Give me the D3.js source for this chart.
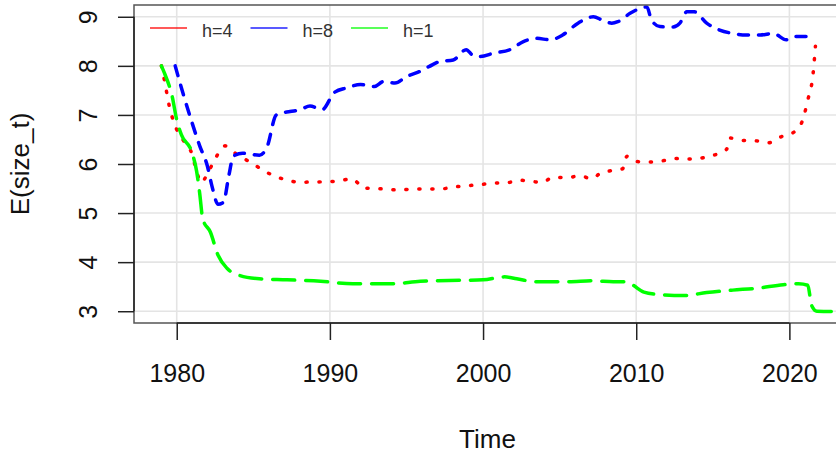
<!DOCTYPE html>
<html>
<head>
<meta charset="utf-8">
<script src="https://d3js.org/d3.v7.min.js"></script>
<style>
  body { margin: 0; background: #fff; }
  svg { display: block; font-family: "Liberation Sans", Arial, sans-serif; }
  .grid line { stroke: #e4e4e4; stroke-width: 1.6; }
  .axis text { font-size: 25px; fill: #111; }
  .axis line { stroke: #222; stroke-width: 1.5; }
  .legend text { font-size: 18px; fill: #333; }
</style>
</head>
<body>
<div id="vis"></div>
<script>
// series values (year, E(size_t))
const YEARS_H4 = [1979.0, 1979.2, 1979.5, 1980.0, 1980.5, 1981.0, 1981.3, 1981.6, 1982.0, 1982.5,
  1983.15, 1983.9, 1985.0, 1985.7, 1987.1, 1988.0, 1989.8, 1990.7, 1991.4, 1991.8, 1992.1,
  1993.0, 1994.6, 1995.4, 1997.2, 1998.05, 1999.8, 2000.7, 2001.6, 2002.3, 2003.3, 2003.8,
  2004.6, 2005.5, 2006.3, 2007.1, 2007.7, 2008.5, 2009.1, 2009.4, 2010.0, 2010.9, 2011.8,
  2012.6, 2013.5, 2014.4, 2015.25, 2015.9, 2016.1, 2017.0, 2017.9, 2018.6, 2019.5, 2020.25,
  2020.8, 2021.2, 2021.55, 2021.7];
const VALUES_H4 = [8.0, 7.7, 7.2, 6.7, 6.45, 6.2, 5.85, 5.62, 5.8, 6.1,
  6.37, 6.2, 6.0, 5.86, 5.68, 5.63, 5.64, 5.66, 5.70, 5.62, 5.51,
  5.50, 5.47, 5.49, 5.49, 5.53, 5.58, 5.61, 5.62, 5.67, 5.64, 5.62,
  5.73, 5.72, 5.76, 5.70, 5.82, 5.87, 5.90, 6.16, 6.05, 6.04, 6.07,
  6.11, 6.10, 6.13, 6.20, 6.30, 6.53, 6.48, 6.47, 6.43, 6.56, 6.64,
  6.84, 7.3, 7.85, 8.4];

const YEARS_H8 = [1979.9, 1980.4, 1981.0, 1981.5, 1982.0, 1982.3, 1982.7, 1983.05, 1983.4, 1983.7,
  1984.3, 1985.4, 1985.9, 1986.5, 1987.4, 1988.0, 1988.7, 1989.5, 1990.3, 1991.1, 1992.0,
  1992.9, 1993.5, 1994.25, 1995.0, 1995.9, 1996.5, 1997.2, 1998.05, 1998.9, 1999.4, 1999.8,
  2000.7, 2001.75, 2002.6, 2003.5, 2004.4, 2005.2, 2006.2, 2007.2, 2007.8, 2008.4, 2008.8,
  2009.6, 2010.25, 2010.7, 2011.0, 2011.55, 2012.4, 2012.85, 2013.3, 2013.8, 2014.6, 2015.45,
  2016.3, 2017.2, 2018.1, 2018.95, 2019.8, 2020.35, 2021.45];
const VALUES_H8 = [8.0, 7.45, 6.84, 6.37, 5.96, 5.55, 5.18, 5.22, 5.76, 6.16,
  6.22, 6.18, 6.35, 7.0, 7.07, 7.1, 7.18, 7.11, 7.46, 7.55, 7.62,
  7.58, 7.68, 7.65, 7.78, 7.89, 7.99, 8.09, 8.12, 8.33, 8.2, 8.19,
  8.26, 8.33, 8.49, 8.56, 8.53, 8.63, 8.87, 9.0, 8.93, 8.87, 8.9,
  9.07, 9.17, 9.2, 8.93, 8.8, 8.79, 8.87, 9.1, 9.1, 8.87, 8.73,
  8.66, 8.63, 8.63, 8.66, 8.53, 8.6, 8.6];

const YEARS_H1 = [1979.0, 1979.2, 1979.7, 1980.0, 1980.3, 1981.0, 1981.3, 1981.5, 1981.7, 1982.2,
  1982.7, 1983.3, 1984.1, 1985.4, 1987.2, 1989.4, 1991.5, 1993.0, 1994.1, 1995.9, 1998.5,
  2000.0, 2001.4, 2002.2, 2003.5, 2005.5, 2007.2, 2008.5, 2009.4, 2009.8, 2010.5, 2011.55,
  2013.1, 2014.6, 2016.3, 2017.9, 2019.6, 2020.6, 2021.2, 2021.45, 2021.8, 2023.5];
const VALUES_H1 = [8.0, 7.85, 7.38, 6.9, 6.6, 6.23, 5.85, 5.4, 4.88, 4.61,
  4.14, 3.87, 3.73, 3.66, 3.64, 3.61, 3.56, 3.56, 3.56, 3.61, 3.63,
  3.64, 3.70, 3.66, 3.60, 3.60, 3.62, 3.60, 3.60, 3.53, 3.39, 3.34,
  3.32, 3.38, 3.43, 3.47, 3.54, 3.56, 3.53, 3.12, 3.0, 2.99];

const X_TICKS = [1980, 1990, 2000, 2010, 2020];
const Y_TICKS = [3, 4, 5, 6, 7, 8, 9];
const LEGEND_LABELS = ["h=4", "h=8", "h=1"];
const COLORS = ["#ff0000", "#0000ff", "#00ff00"];

// frame
const FRAME_WIDTH = 836;
const FRAME_HEIGHT = 458;
const PLOT = {left: 134, right: 841, top: 5, bottom: 323};

const FRAME = d3.select("#vis")
                .append("svg")
                .attr("width", FRAME_WIDTH)
                .attr("height", FRAME_HEIGHT);

// scales (R style 4% padding around the data range)
const X_SCALE = d3.scaleLinear()
                  .domain([1977.21, 2023.37])
                  .range([PLOT.left, PLOT.right]);
const Y_SCALE = d3.scaleLinear()
                  .domain([2.76, 9.24])
                  .range([PLOT.bottom, PLOT.top]);

// grid
const GRID = FRAME.append("g").attr("class", "grid");
GRID.selectAll("vline")
    .data(X_TICKS)
    .enter().append("line")
    .attr("x1", d => X_SCALE(d)).attr("x2", d => X_SCALE(d))
    .attr("y1", PLOT.top).attr("y2", PLOT.bottom);
GRID.selectAll("hline")
    .data(Y_TICKS)
    .enter().append("line")
    .attr("x1", PLOT.left).attr("x2", PLOT.right)
    .attr("y1", d => Y_SCALE(d)).attr("y2", d => Y_SCALE(d));

// clip for the series
FRAME.append("clipPath").attr("id", "clip")
     .append("rect")
     .attr("x", PLOT.left).attr("y", PLOT.top)
     .attr("width", PLOT.right - PLOT.left)
     .attr("height", PLOT.bottom - PLOT.top);

const SERIES = [
  {years: YEARS_H4, values: VALUES_H4, color: COLORS[0], dash: "1.2,11.8"},
  {years: YEARS_H8, values: VALUES_H8, color: COLORS[1], dash: "10,10"},
  {years: YEARS_H1, values: VALUES_H1, color: COLORS[2], dash: "22,11"}
];

const LINE = d3.line()
               .x(d => X_SCALE(d[0]))
               .y(d => Y_SCALE(d[1]))
               .curve(d3.curveMonotoneX);

// draw the three series
FRAME.append("g")
     .attr("clip-path", "url(#clip)")
     .selectAll("path")
     .data(SERIES)
     .enter().append("path")
     .attr("d", s => LINE(s.years.map((y, i) => [y, s.values[i]])))
     .attr("fill", "none")
     .attr("stroke", s => s.color)
     .attr("stroke-width", 3.5)
     .attr("stroke-linecap", "round")
     .attr("stroke-linejoin", "round")
     .attr("stroke-dasharray", s => s.dash);

// box
FRAME.append("rect")
     .attr("x", PLOT.left).attr("y", PLOT.top)
     .attr("width", PLOT.right - PLOT.left)
     .attr("height", PLOT.bottom - PLOT.top)
     .attr("fill", "none")
     .attr("stroke", "#555")
     .attr("stroke-width", 1.5);

// x axis
const X_AXIS = FRAME.append("g")
     .attr("class", "axis")
     .attr("transform", "translate(0," + PLOT.bottom + ")")
     .call(d3.axisBottom(X_SCALE).tickValues(X_TICKS).tickFormat(d3.format("d")).tickSize(17).tickSizeOuter(0));
X_AXIS.select(".domain").remove();
X_AXIS.append("line")
      .attr("x1", X_SCALE(X_TICKS[0])).attr("x2", X_SCALE(X_TICKS[X_TICKS.length - 1]))
      .attr("y1", 0).attr("y2", 0);
X_AXIS.selectAll("text").attr("y", 59).attr("dy", 0).attr("fill", "#111");

// y axis
const Y_AXIS = FRAME.append("g")
     .attr("class", "axis")
     .attr("transform", "translate(" + PLOT.left + ",0)")
     .call(d3.axisLeft(Y_SCALE).tickValues(Y_TICKS).tickFormat(d3.format("d")).tickSize(16).tickSizeOuter(0));
Y_AXIS.select(".domain").remove();
Y_AXIS.append("line")
      .attr("x1", 0).attr("x2", 0)
      .attr("y1", Y_SCALE(Y_TICKS[0])).attr("y2", Y_SCALE(Y_TICKS[Y_TICKS.length - 1]));
Y_AXIS.selectAll("text")
      .attr("transform", "rotate(-90)")
      .attr("x", 0).attr("y", -37).attr("dy", 0)
      .attr("text-anchor", "middle")
      .attr("fill", "#111");

// axis titles
FRAME.append("text")
     .attr("x", 487.5).attr("y", 448)
     .attr("text-anchor", "middle")
     .attr("font-size", "26px").attr("fill", "#111")
     .text("Time");
FRAME.append("text")
     .attr("transform", "translate(29,164) rotate(-90)")
     .attr("text-anchor", "middle")
     .attr("font-size", "26px").attr("fill", "#111")
     .text("E(size_t)");

// legend
const LEGEND = FRAME.append("g").attr("class", "legend");
const ITEMS = LEGEND.selectAll("g")
     .data(LEGEND_LABELS)
     .enter().append("g")
     .attr("transform", (d, i) => "translate(" + (150 + i * 100.5) + ",28)");
ITEMS.append("line")
     .attr("x1", 0).attr("x2", 37)
     .attr("y1", 0).attr("y2", 0)
     .attr("stroke", (d, i) => COLORS[i])
     .attr("stroke-width", 2)
     .attr("stroke-opacity", 0.65);
ITEMS.append("text")
     .attr("x", 52).attr("y", 8.5)
     .text(d => d);
</script>
</body>
</html>
